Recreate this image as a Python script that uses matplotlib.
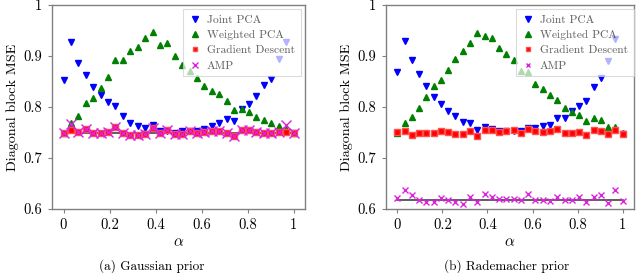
import numpy as np
import matplotlib
matplotlib.use("Agg")
import matplotlib.pyplot as plt

plt.rcParams['font.family'] = ['cmr10', 'DejaVu Serif']
plt.rcParams['mathtext.fontset'] = 'cm'
plt.rcParams['axes.formatter.use_mathtext'] = True

alpha = np.linspace(0, 1, 32)

# (a) Gaussian prior
a_joint = [0.852, 0.928, 0.887, 0.862, 0.839, 0.823, 0.809, 0.801, 0.782, 0.768,
           0.763, 0.758, 0.765, 0.752, 0.753, 0.750, 0.752, 0.752, 0.752, 0.757,
           0.763, 0.769, 0.776, 0.773, 0.797, 0.806, 0.822, 0.843, 0.855, 0.894,
           0.928, 0.750]
a_weighted = [0.750, 0.768, 0.783, 0.808, 0.817, 0.837, 0.858, 0.892, 0.892, 0.909,
              0.918, 0.935, 0.948, 0.921, 0.926, 0.900, 0.882, 0.871, 0.857, 0.842,
              0.831, 0.826, 0.811, 0.795, 0.797, 0.790, 0.780, 0.775, 0.769, 0.763,
              0.757, 0.750]
a_gd = [0.750, 0.754, 0.751, 0.756, 0.750, 0.750, 0.751, 0.761, 0.750, 0.746,
        0.746, 0.748, 0.759, 0.750, 0.755, 0.747, 0.747, 0.752, 0.750, 0.751,
        0.752, 0.753, 0.750, 0.744, 0.754, 0.754, 0.751, 0.749, 0.749, 0.751,
        0.751, 0.750]
a_amp = [0.750, 0.767, 0.751, 0.756, 0.750, 0.750, 0.751, 0.761, 0.750, 0.746,
         0.746, 0.748, 0.759, 0.750, 0.755, 0.747, 0.747, 0.752, 0.750, 0.751,
         0.752, 0.753, 0.750, 0.744, 0.754, 0.754, 0.751, 0.749, 0.749, 0.751,
         0.765, 0.750]
a_ref = 0.75

# (b) Rademacher prior
b_joint = [0.869, 0.929, 0.892, 0.864, 0.841, 0.820, 0.806, 0.793, 0.783, 0.770,
           0.769, 0.755, 0.761, 0.757, 0.753, 0.752, 0.752, 0.753, 0.759, 0.759,
           0.763, 0.765, 0.778, 0.778, 0.792, 0.802, 0.811, 0.840, 0.857, 0.890,
           0.933, 0.747]
b_weighted = [0.750, 0.768, 0.781, 0.799, 0.819, 0.841, 0.852, 0.872, 0.894, 0.910,
              0.925, 0.946, 0.939, 0.935, 0.916, 0.903, 0.892, 0.871, 0.869, 0.845,
              0.835, 0.824, 0.814, 0.799, 0.790, 0.784, 0.773, 0.778, 0.774, 0.760,
              0.761, 0.750]
b_gd = [0.751, 0.752, 0.746, 0.750, 0.749, 0.750, 0.752, 0.751, 0.748, 0.748,
        0.753, 0.744, 0.754, 0.754, 0.751, 0.753, 0.754, 0.750, 0.756, 0.752,
        0.751, 0.752, 0.756, 0.749, 0.750, 0.751, 0.746, 0.754, 0.752, 0.747,
        0.755, 0.748]
b_amp = [0.622, 0.637, 0.628, 0.618, 0.613, 0.613, 0.622, 0.618, 0.614, 0.609,
         0.623, 0.613, 0.629, 0.624, 0.620, 0.620, 0.620, 0.617, 0.630, 0.618,
         0.618, 0.616, 0.624, 0.618, 0.618, 0.624, 0.613, 0.624, 0.628, 0.612,
         0.638, 0.616]
b_ref = 0.618

xticks = [0, 0.2, 0.4, 0.6, 0.8, 1]
xticklabels = ['0', '0.2', '0.4', '0.6', '0.8', '1']
yticks = [0.6, 0.7, 0.8, 0.9, 1.0]
yticklabels = ['0.6', '0.7', '0.8', '0.9', '1']
labels = ['Joint PCA', 'Weighted PCA', 'Gradient Descent', 'AMP']
captions = ['(a) Gaussian prior', '(b) Rademacher prior']

fig = plt.figure(figsize=(6.4, 2.73), dpi=100)
ax_a = fig.add_axes([52/640, 1-209/273, 253/640, 204/273])
ax_b = fig.add_axes([386/640, 1-209/273, 248/640, 204/273])

spine_col = '#808080'
panels = [
    (ax_a, a_joint, a_weighted, a_gd, a_amp, a_ref, 6.5, 1.0, (0.983, 0.98)),
    (ax_b, b_joint, b_weighted, b_gd, b_amp, b_ref, 3.8, 1.0, (0.999, 0.98)),
]
for ax, jp, wp, gd, amp, ref, xms, xlw, anchor in panels:
    ax.plot([0, 1], [ref, ref], color='#333333', lw=1.1, zorder=1)
    ax.plot(alpha, jp, linestyle='none', marker='v', ms=5, color='#0000ff',
            mec='#0000ff', label=labels[0], zorder=2)
    ax.plot(alpha, wp, linestyle='none', marker='^', ms=5, color='#008000',
            mec='#008000', label=labels[1], zorder=3)
    ax.plot(alpha, gd, linestyle='none', marker='s', ms=4.3, color='#ff0000',
            mec='#ff5050', label=labels[2], zorder=4)
    ax.plot(alpha, amp, linestyle='none', marker='x', ms=xms, mew=xlw,
            color='#e020e0', label=labels[3], zorder=5)
    ax.set_xlim(-0.05, 1.05)
    ax.set_ylim(0.6, 1.0)
    ax.set_xticks(xticks)
    ax.set_xticklabels(xticklabels)
    ax.set_yticks(yticks)
    ax.set_yticklabels(yticklabels)
    ax.tick_params(direction='out', length=3, width=0.8, color=spine_col,
                   labelsize=10.5, top=False, right=False, pad=4)
    for s in ax.spines.values():
        s.set_color(spine_col)
        s.set_linewidth(1.0)
    ax.set_xlabel(r'$\alpha$', fontsize=11, labelpad=2)
    ax.set_ylabel('Diagonal block MSE', fontsize=10.2, labelpad=3)
    leg = ax.legend(loc='upper right', bbox_to_anchor=anchor, borderaxespad=0,
                    fontsize=8.3, frameon=True, framealpha=0.7, edgecolor='#cccccc',
                    fancybox=False, handlelength=1.1, handletextpad=0.5,
                    labelspacing=0.45, borderpad=0.5, numpoints=1,
                    markerscale=0.75)
    leg.get_frame().set_linewidth(0.8)
    for t in leg.get_texts():
        t.set_color('#606060')

fig.text(152/640, 1-266/273, captions[0], ha='center', va='center', fontsize=9.5)
fig.text(507/640, 1-266/273, captions[1], ha='center', va='center', fontsize=9.5)

fig.savefig('out.png', dpi=100)
